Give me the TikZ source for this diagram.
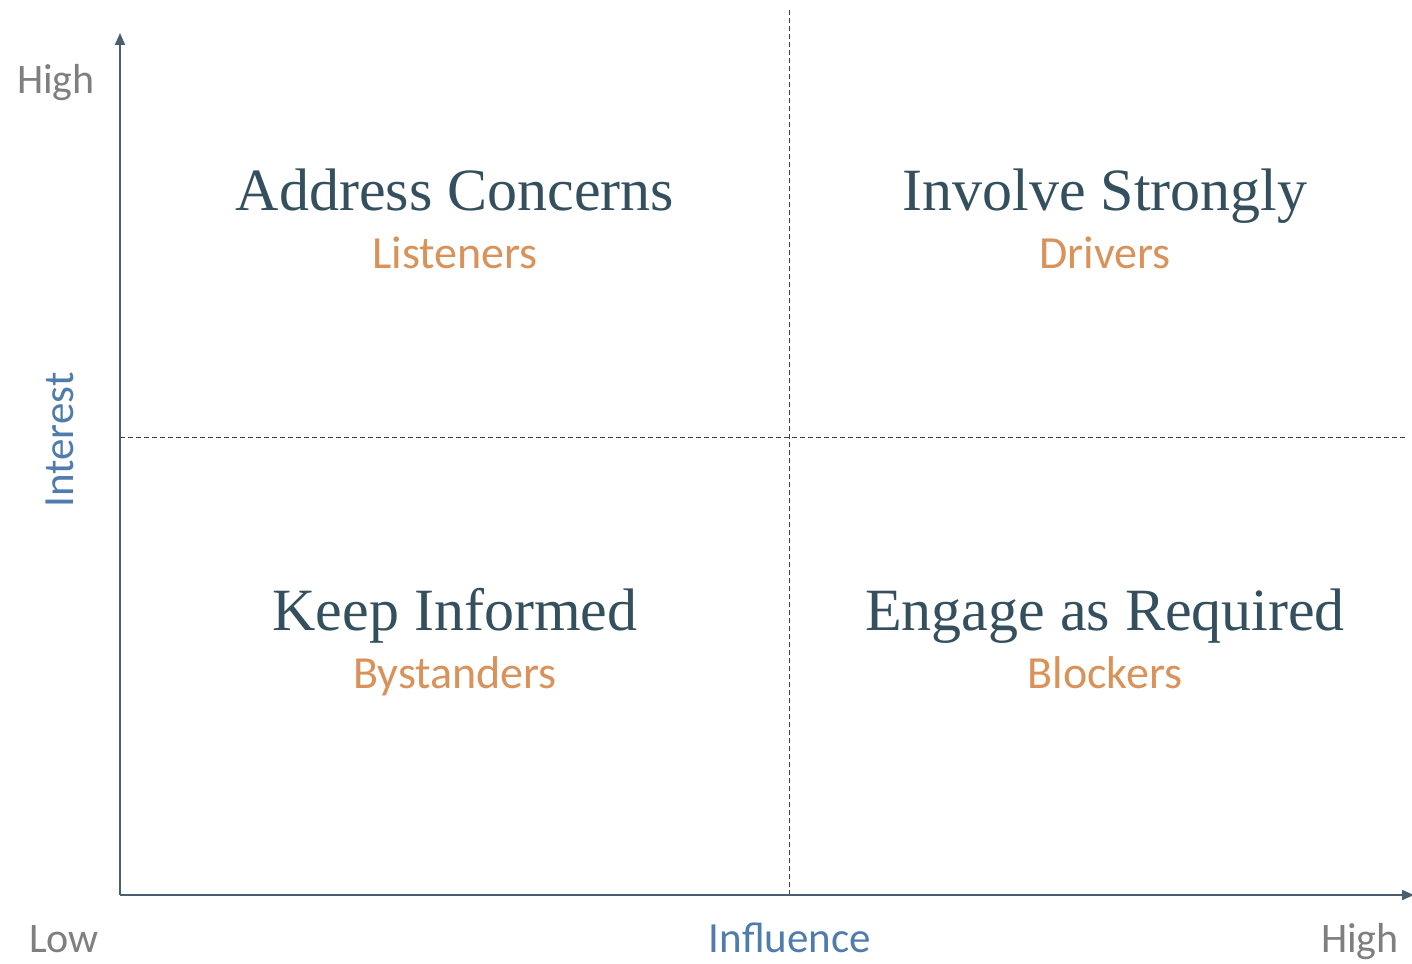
\documentclass[tikz,border=0pt]{standalone}
\usepackage{fontspec}
\setmainfont{Liberation Serif}
\newfontfamily\labelfont{Carlito}
\usepackage{xcolor}
\usetikzlibrary{arrows.meta, positioning}

\definecolor{titleblue}{HTML}{34505F}
\definecolor{roleorange}{HTML}{D9925A}
\definecolor{axisgray}{HTML}{7F7F7F}
\definecolor{axisblue}{HTML}{4F7CAC}
\definecolor{lineslate}{HTML}{4A5F6E}

\begin{document}
\begin{tikzpicture}[
  x=1pt, y=-1pt,
  quadtitle/.style={font=\fontsize{60}{64}\selectfont, text=titleblue, inner sep=0pt, anchor=base},
  role/.style={font=\labelfont\fontsize{46}{50}\selectfont, text=roleorange, inner sep=0pt},
  tick/.style={font=\labelfont\fontsize{42}{46}\selectfont, text=axisgray, inner sep=0pt, anchor=base},
  axislabel/.style={font=\labelfont\fontsize{43}{47}\selectfont, text=axisblue, inner sep=0pt},
  axis/.style={draw=lineslate, line width=1.8pt, -{Triangle[width=10pt,length=12pt]}},
  split/.style={draw=black!75, line width=1pt, dash pattern=on 5pt off 3pt}
]
  \useasboundingbox[fill=white] (0,0) rectangle (1412,963);

  % Axes and the two dividing lines
  \coordinate (O) at (120,895);
  \coordinate (ytop) at (120,33);
  \coordinate (xend) at (1414,895);
  \coordinate (vtop) at (789,10);
  \coordinate (vbot) at (789,895);
  \coordinate (hleft) at (120,437);
  \coordinate (hright) at (1405,437);

  \draw[split] (vtop) -- (vbot);
  \draw[split] (hleft) -- (hright);
  \draw[axis] (O) -- (ytop);
  \draw[axis] (O) -- (xend);

  % Quadrants
  \node[quadtitle] (tl) at (455,210) {Address Concerns};
  \node[role, below=58pt of tl.base, anchor=base] (tlr) {Listeners};
  \node[quadtitle] (tr) at (1105,210) {Involve Strongly};
  \node[role, below=58pt of tr.base, anchor=base] (trr) {Drivers};
  \node[quadtitle] (bl) at (455,630) {Keep Informed};
  \node[role, below=58pt of bl.base, anchor=base] (blr) {Bystanders};
  \node[quadtitle] (br) at (1105,630) {Engage as Required};
  \node[role, below=58pt of br.base, anchor=base] (brr) {Blockers};

  % Axis labels
  \node[tick] (yhigh) at (56,94) {High};
  \node[tick] (xlow) at (64,952) {Low};
  \node[tick] (xhigh) at (1360,952) {High};
  \node[axislabel, anchor=base] (infl) at (790,952) {Influence};
  \node[axislabel, rotate=90] (intr) at (60,440) {Interest};
\end{tikzpicture}
\end{document}
